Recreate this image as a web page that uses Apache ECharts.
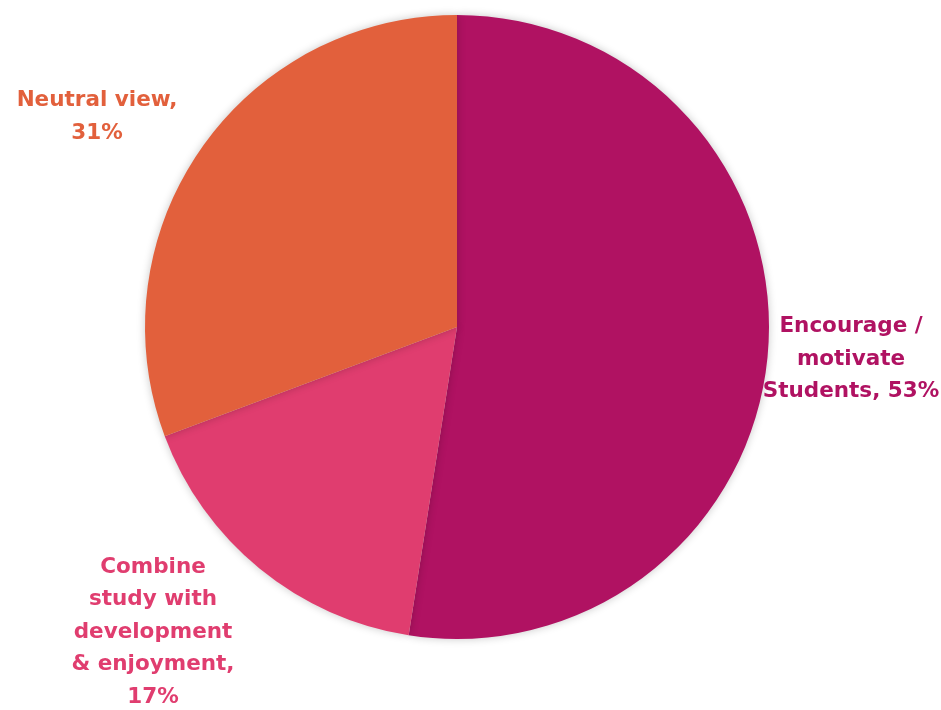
<!DOCTYPE html>
<html>
<head>
<meta charset="utf-8">
<script src="https://cdn.jsdelivr.net/npm/echarts@6/dist/echarts.min.js"></script>
<style>
html,body{margin:0;padding:0;background:#fff;}
#chart{width:941px;height:710px;}
</style>
</head>
<body>
<div id="chart"></div>
<script>
var categories = ['Encourage /\nmotivate\nStudents,', 'Combine\nstudy with\ndevelopment\n& enjoyment,', 'Neutral view,'];
var valueSeparators = [' ', '\n', '\n'];
var values = [53, 17, 31];
var colors = ['#B01262', '#E03D6F', '#E2603C'];
var labelCenters = [[851, 359], [153, 632], [97, 117]];

var chart = echarts.init(document.getElementById('chart'));
chart.setOption({
  animation: false,
  series: [{
    type: 'pie',
    center: [457, 327],
    radius: 312,
    startAngle: 90,
    clockwise: true,
    data: categories.map(function (c, i) {
      return { name: c, value: values[i], itemStyle: { color: colors[i] }, label: { color: colors[i] } };
    }),
    itemStyle: { shadowBlur: 8, shadowColor: 'rgba(0,0,0,0.22)', borderWidth: 0 },
    label: {
      show: true,
      position: 'outside',
      fontFamily: 'DejaVu Sans',
      fontWeight: 'bold',
      fontSize: 21.5,
      lineHeight: 32.5,
      align: 'center',
      overflow: 'none',
      width: 300,
      formatter: function (p) {
        return p.name + valueSeparators[p.dataIndex] + p.value + '%';
      }
    },
    labelLine: { show: false },
    labelLayout: function (p) {
      var c = labelCenters[p.dataIndex];
      return { x: c[0], y: c[1], align: 'center', verticalAlign: 'middle' };
    }
  }]
});
</script>
</body>
</html>
